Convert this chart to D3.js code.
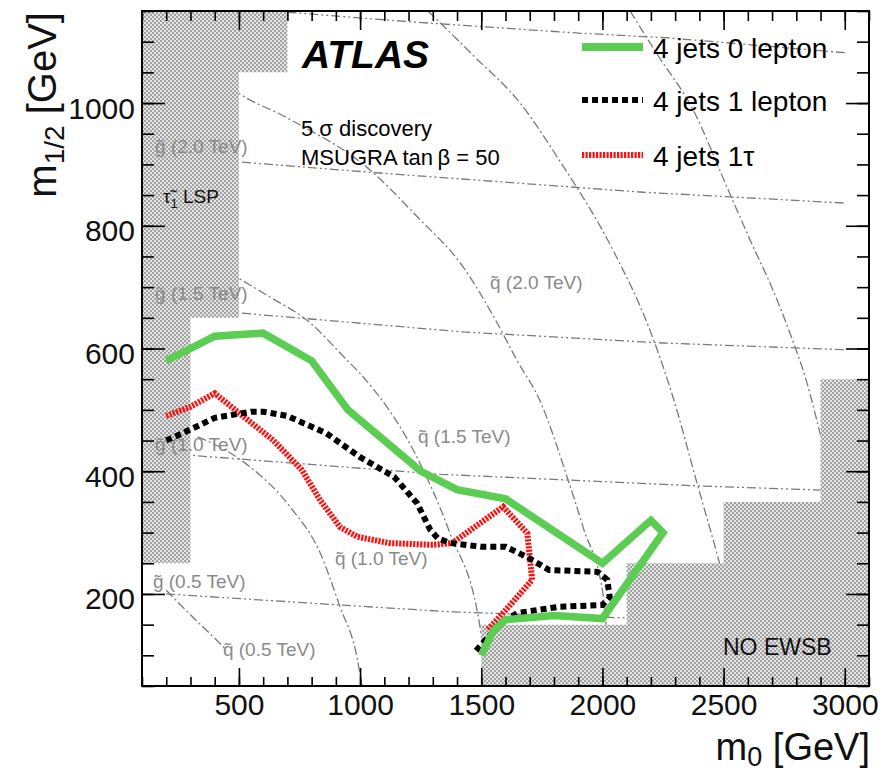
<!DOCTYPE html>
<html>
<head>
<meta charset="utf-8">
<script src="https://cdn.jsdelivr.net/npm/d3@7"></script>
<style>
  body { margin: 0; background: #fff; }
  svg { display: block; }
  text { font-family: "Liberation Sans", Arial, Helvetica, sans-serif; }
</style>
</head>
<body>
<svg id="chart" width="883" height="775"></svg>
<script>
// ---- axis ticks ----
const xMajorTicks = [500, 1000, 1500, 2000, 2500, 3000];
const xMinorTicks = d3.range(100, 3101, 100);
const yMajorTicks = [200, 400, 600, 800, 1000];
const yMinorTicks = d3.range(50, 1151, 50);

// ---- 5 sigma discovery contours, (m0, m1/2) in GeV ----
const zeroLepton = [[200,580],[400,620],[600,625],[800,580],[950,500],[1250,400],[1400,370],[1600,355],
  [2000,250],[2200,320],[2250,300],[2000,160],[1800,165],[1600,158],[1550,140],[1500,100]];
const oneLepton = [[200,450],[300,468],[400,487],[550,497],[600,497],[700,490],[860,462],[1000,423],
  [1140,391],[1235,348],[1290,304],[1320,291],[1370,283],[1500,277],[1600,277],[1690,260],[1780,239],
  [1980,236],[2020,223],[2030,195],[2000,182],[1820,179],[1650,169],[1580,153],[1470,104]];
const oneTau = [[200,490],[300,505],[400,527],[500,495],[640,451],[760,402],[835,353],[917,309],
  [990,293],[1120,283],[1300,280],[1380,283],[1590,342],[1690,299],[1710,223],[1590,169],[1525,141]];

// ---- gluino mass contours ----
const gluino05 = [[200,200],[917,182],[1370,171],[2020,162],[3000,148]];
const gluino10 = [[150,430],[300,426],[1330,395],[2400,376],[3000,368]];
const gluino15 = [[150,664],[500,658],[1425,627],[2250,609],[3000,598]];
const gluino20 = [[150,910],[500,904],[1080,886],[2155,855],[3000,837]];
const gluino25 = [[700,1148],[1220,1132],[1900,1114],[2280,1106],[3000,1082]];

// ---- squark mass contours ----
const squark05 = [[200,206],[300,166],[420,120],[450,108]];
const squark10 = [[330,456],[463,430],[546,407],[711,342],[835,267],[917,179],[987,97],[1008,50]];
const squark15 = [[340,752],[492,716],[628,684],[781,646],[946,581],[1012,554],[1247,413],[1371,299],[1495,146],[1524,50]];
const squark20 = [[420,1040],[492,1018],[698,976],[1041,891],[1235,815],[1425,733],[1565,642],[1647,581],
  [1742,515],[1854,391],[1920,309],[2006,190],[2031,50]];
const squark25 = [[1280,1150],[1466,1078],[1660,1000],[1825,905],[2044,760],[2196,630],
  [2291,521],[2390,381],[2473,265],[2530,180]];
const squark30 = [[2114,1150],[2225,1080],[2374,989],[2514,863],[2609,777],[2704,695],[2774,625],
  [2844,544],[2898,462],[2950,380]];

// ---- excluded regions ----
const stauLspRegion = [[100,250],[300,250],[300,650],[500,650],[500,1050],[700,1050],[700,1150],[100,1150]];
const noEwsbRegion = [[1500,50],[1500,150],[2100,150],[2100,250],[2500,250],[2500,350],[2900,350],[2900,550],[3100,550],[3100,50]];

// ---- contour label anchors (m0, m1/2) and texts ----
const contourLabels = [
  { text: "g\u0303 (2.0 TeV)", at: [154, 919] },
  { text: "g\u0303 (1.5 TeV)", at: [154, 679] },
  { text: "g\u0303 (1.0 TeV)", at: [154, 433] },
  { text: "g\u0303 (0.5 TeV)", at: [145, 210] },
  { text: "q\u0303 (0.5 TeV)", at: [434, 99] },
  { text: "q\u0303 (1.0 TeV)", at: [896, 247] },
  { text: "q\u0303 (1.5 TeV)", at: [1239, 446] },
  { text: "q\u0303 (2.0 TeV)", at: [1536, 697] }
];

const legendLabels = ["4 jets 0 lepton", "4 jets 1 lepton", "4 jets 1\u03c4"];

// ---- layout ----
const plot = { left: 142, top: 11, right: 869, bottom: 686 };

const x = d3.scaleLinear().domain([100, 3100]).range([plot.left, plot.right]);
const y = d3.scaleLinear().domain([50, 1150]).range([plot.bottom, plot.top]);

const svg = d3.select("#chart");
const defs = svg.append("defs");

// checkered fill for excluded regions
const pat = defs.append("pattern").attr("id", "checker")
  .attr("patternUnits", "userSpaceOnUse").attr("width", 4).attr("height", 4);
pat.append("rect").attr("width", 4).attr("height", 4).attr("fill", "#e4e4e4");
pat.append("rect").attr("width", 2).attr("height", 2).attr("fill", "#a2a2a2");
pat.append("rect").attr("x", 2).attr("y", 2).attr("width", 2).attr("height", 2).attr("fill", "#a2a2a2");

defs.append("clipPath").attr("id", "plotClip").append("rect")
  .attr("x", plot.left).attr("y", plot.top)
  .attr("width", plot.right - plot.left).attr("height", plot.bottom - plot.top);

const area = svg.append("g").attr("clip-path", "url(#plotClip)");

const smoothLine = d3.line().x(d => x(d[0])).y(d => y(d[1])).curve(d3.curveMonotoneX);
const straightLine = d3.line().x(d => x(d[0])).y(d => y(d[1]));

// mass contours
const gluinoDash = "9,3,2,3,2,3";
const squarkDash = "9,3,2,3";
[gluino05, gluino10, gluino15, gluino20, gluino25].forEach(c => {
  area.append("path").attr("d", straightLine(c)).attr("fill", "none")
    .attr("stroke", "#7a7a7a").attr("stroke-width", 1.3).attr("stroke-dasharray", gluinoDash);
});
[squark05, squark10, squark15, squark20, squark25, squark30].forEach(c => {
  area.append("path").attr("d", smoothLine(c)).attr("fill", "none")
    .attr("stroke", "#7a7a7a").attr("stroke-width", 1.3).attr("stroke-dasharray", squarkDash);
});

// excluded regions
[stauLspRegion, noEwsbRegion].forEach(r => {
  area.append("path").attr("d", straightLine(r) + "Z").attr("fill", "url(#checker)");
});

// contour labels
contourLabels.forEach(l => {
  area.append("text").attr("x", x(l.at[0])).attr("y", y(l.at[1]))
    .attr("font-size", 19).attr("fill", "#8a8a8a").text(l.text);
});

// region labels
const lsp = area.append("text").attr("x", 163).attr("y", 203).attr("font-size", 19).attr("fill", "#111");
lsp.append("tspan").text("\u03c4\u0303");
lsp.append("tspan").attr("font-size", 13).attr("dy", 5).text("1");
lsp.append("tspan").attr("dy", -5).text(" LSP");
area.append("text").attr("x", 723).attr("y", 655).attr("font-size", 23).attr("fill", "#111").text("NO EWSB");

// discovery contours
area.append("path").attr("d", straightLine(oneTau)).attr("fill", "none")
  .attr("stroke", "#ff1010").attr("stroke-width", 6).attr("stroke-dasharray", "2.2,1.3");
area.append("path").attr("d", straightLine(oneLepton)).attr("fill", "none")
  .attr("stroke", "#000").attr("stroke-width", 6).attr("stroke-dasharray", "6,4");
area.append("path").attr("d", straightLine(zeroLepton)).attr("fill", "none")
  .attr("stroke", "#5acd52").attr("stroke-width", 7.5).attr("stroke-linejoin", "miter");

// texts
svg.append("text").attr("x", 302).attr("y", 68).attr("font-size", 39)
  .attr("font-weight", "bold").attr("font-style", "italic").text("ATLAS");
svg.append("text").attr("x", 301).attr("y", 136).attr("font-size", 22).text("5 \u03c3 discovery");
svg.append("text").attr("x", 301).attr("y", 165).attr("font-size", 22).text("MSUGRA tan\u2009\u03b2 = 50");

// legend
const legendStyles = [
  { stroke: "#5acd52", width: 8, dash: null },
  { stroke: "#000", width: 6, dash: "6,4" },
  { stroke: "#ff1010", width: 6, dash: "2.2,1.3" }
];
const legendY = [47, 100, 155];
legendLabels.forEach((lab, i) => {
  const s = legendStyles[i];
  const ln = svg.append("line").attr("x1", 582).attr("x2", 643)
    .attr("y1", legendY[i]).attr("y2", legendY[i])
    .attr("stroke", s.stroke).attr("stroke-width", s.width);
  if (s.dash) ln.attr("stroke-dasharray", s.dash);
  svg.append("text").attr("x", 653).attr("y", legendY[i] + 10.5).attr("font-size", 28).text(lab);
});

// axes
function styleAxis(g) {
  g.select(".domain").remove();
  g.selectAll("line").attr("stroke", "#000").attr("stroke-width", 1.6);
  g.attr("font-family", "Liberation Sans, Arial, sans-serif");
  return g;
}
const noLabel = () => "";

svg.append("g").attr("transform", `translate(0,${plot.bottom})`)
  .call(d3.axisBottom(x).tickValues(xMinorTicks).tickSize(-9).tickFormat(noLabel)).call(styleAxis);
const xAxis = svg.append("g").attr("transform", `translate(0,${plot.bottom})`)
  .call(d3.axisBottom(x).tickValues(xMajorTicks).tickSize(-18).tickPadding(8).tickFormat(d3.format("d")))
  .call(styleAxis);
xAxis.attr("font-size", 30);
xAxis.selectAll("text").attr("fill", "#111");

svg.append("g").attr("transform", `translate(0,${plot.top})`)
  .call(d3.axisTop(x).tickValues(xMinorTicks).tickSize(-10).tickFormat(noLabel)).call(styleAxis);
svg.append("g").attr("transform", `translate(0,${plot.top})`)
  .call(d3.axisTop(x).tickValues(xMajorTicks).tickSize(-19).tickFormat(noLabel)).call(styleAxis);

svg.append("g").attr("transform", `translate(${plot.left},0)`)
  .call(d3.axisLeft(y).tickValues(yMinorTicks).tickSize(-12).tickFormat(noLabel)).call(styleAxis);
const yAxis = svg.append("g").attr("transform", `translate(${plot.left},0)`)
  .call(d3.axisLeft(y).tickValues(yMajorTicks).tickSize(-23).tickPadding(7).tickFormat(d3.format("d")))
  .call(styleAxis);
yAxis.attr("font-size", 30);
yAxis.selectAll("text").attr("dy", "0.5em").attr("fill", "#111");

svg.append("g").attr("transform", `translate(${plot.right},0)`)
  .call(d3.axisRight(y).tickValues(yMinorTicks).tickSize(-12).tickFormat(noLabel)).call(styleAxis);
svg.append("g").attr("transform", `translate(${plot.right},0)`)
  .call(d3.axisRight(y).tickValues(yMajorTicks).tickSize(-23).tickFormat(noLabel)).call(styleAxis);

// frame
svg.append("rect").attr("x", plot.left).attr("y", plot.top)
  .attr("width", plot.right - plot.left).attr("height", plot.bottom - plot.top)
  .attr("fill", "none").attr("stroke", "#000").attr("stroke-width", 2);

// axis titles
const xt = svg.append("text").attr("x", 870).attr("y", 760).attr("text-anchor", "end")
  .attr("font-size", 38).attr("fill", "#111");
xt.append("tspan").text("m");
xt.append("tspan").attr("font-size", 27).attr("dy", 6).text("0");
xt.append("tspan").attr("dy", -6).text(" [GeV]");

const yt = svg.append("text").attr("transform", "translate(56,12) rotate(-90)")
  .attr("text-anchor", "end").attr("font-size", 40).attr("fill", "#111");
yt.append("tspan").text("m");
yt.append("tspan").attr("font-size", 28).attr("dy", 8).text("1/2");
yt.append("tspan").attr("dy", -8).text(" [GeV]");
</script>
</body>
</html>
